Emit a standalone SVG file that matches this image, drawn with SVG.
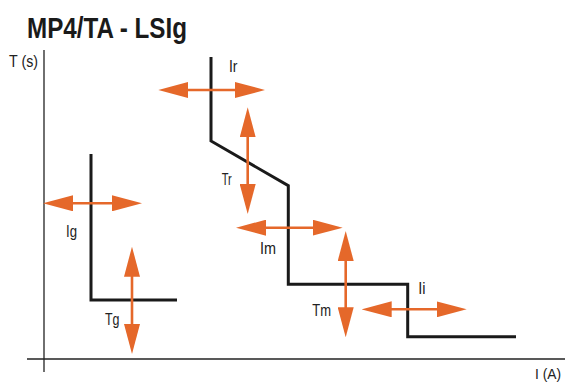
<svg xmlns="http://www.w3.org/2000/svg" width="565" height="385" viewBox="0 0 565 385">
<style>
.ax{stroke:#222;stroke-width:1.3;fill:none}
.cv{stroke:#1a1a1a;stroke-width:3;fill:none;stroke-linejoin:miter}
.ar{stroke:#E5682A;stroke-width:2.6;fill:none;marker-start:url(#ah);marker-end:url(#ah)}
.lb{font-family:"Liberation Sans Narrow","Liberation Sans",Arial,sans-serif;font-size:17px;fill:#222}
.tt{font-family:"Liberation Sans Narrow","Liberation Sans",Arial,sans-serif;font-size:29px;font-weight:bold;fill:#1a1a1a}
</style>
<defs>
<marker id="ah" viewBox="0 0 30 16" refX="22" refY="8" markerWidth="30" markerHeight="16" markerUnits="userSpaceOnUse" orient="auto-start-reverse">
<path d="M0,0 L30,8 L0,16 z" fill="#E5682A"/>
</marker>
</defs>
<text class="tt" x="27" y="37.5" textLength="160" lengthAdjust="spacingAndGlyphs">MP4/TA - LSIg</text>
<g id="axes">
<line class="ax" x1="44" y1="50" x2="44" y2="372"/>
<line class="ax" x1="27" y1="359" x2="565" y2="359"/>
<text class="lb" x="9" y="67" textLength="29" lengthAdjust="spacingAndGlyphs">T (s)</text>
<text class="lb" x="535" y="379" style="font-size:15.5px" textLength="26" lengthAdjust="spacingAndGlyphs">I (A)</text>
</g>
<g id="curve-ground">
<path class="cv" d="M91,154 V300 H177"/>
</g>
<g id="curve-main">
<path class="cv" d="M211,57 V141 L288.3,185.7 V284.3 H407.7 V336.7 H516"/>
</g>
<g id="connectors">
<line id="arrow-Ig" class="ar" x1="51" y1="203.3" x2="134" y2="203.3"/>
<line id="arrow-Tg" class="ar" x1="132" y1="254.7" x2="132" y2="346"/>
<line id="arrow-Ir" class="ar" x1="166.3" y1="90" x2="257" y2="90"/>
<line id="arrow-Tr" class="ar" x1="247.7" y1="115.3" x2="247.7" y2="206"/>
<line id="arrow-Im" class="ar" x1="244" y1="227.7" x2="334.7" y2="227.7"/>
<line id="arrow-Tm" class="ar" x1="345.7" y1="239" x2="345.7" y2="329.3"/>
<line id="arrow-Ii" class="ar" x1="369.7" y1="309.3" x2="458.7" y2="309.3"/>
</g>
<g id="labels">
<text id="label-Ig" class="lb" x="66" y="236.5" textLength="11" lengthAdjust="spacingAndGlyphs">Ig</text>
<text id="label-Tg" class="lb" x="105" y="325" textLength="14.5" lengthAdjust="spacingAndGlyphs">Tg</text>
<text id="label-Ir" class="lb" x="229" y="72" textLength="8.5" lengthAdjust="spacingAndGlyphs">Ir</text>
<text id="label-Tr" class="lb" x="221.7" y="185" textLength="10" lengthAdjust="spacingAndGlyphs">Tr</text>
<text id="label-Im" class="lb" x="260" y="254" textLength="16" lengthAdjust="spacingAndGlyphs">Im</text>
<text id="label-Tm" class="lb" x="312.3" y="315.7" textLength="18.7" lengthAdjust="spacingAndGlyphs">Tm</text>
<text id="label-Ii" class="lb" x="418.3" y="294" textLength="7.3" lengthAdjust="spacingAndGlyphs">Ii</text>
</g>
</svg>
